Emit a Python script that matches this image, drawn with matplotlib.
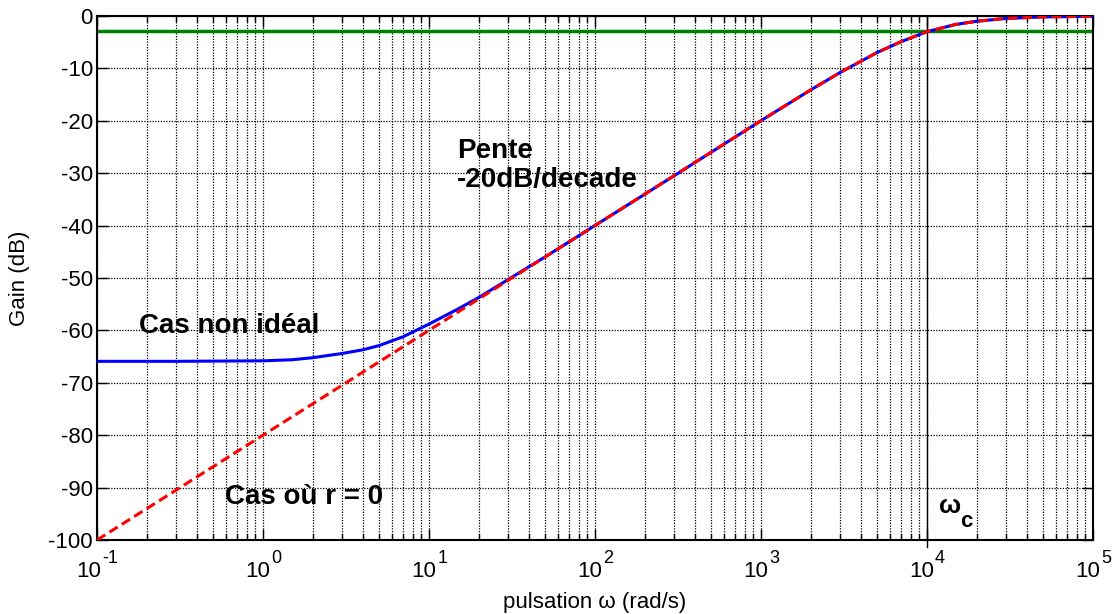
import matplotlib
matplotlib.use('Agg')
from matplotlib import pyplot as plt
from matplotlib.ticker import LogLocator, NullFormatter, FixedLocator
import numpy as np

plt.rcParams['font.family'] = ['Liberation Sans', 'DejaVu Sans']
plt.rcParams['axes.unicode_minus'] = False

# valeurs (pulsation en rad/s, gain en dB)
w_reel = [0.1, 0.3, 1, 1.5, 2, 3, 4, 5, 7, 10, 15, 20, 30, 50, 100, 300, 1000,
          2000, 3000, 5000, 7000, 10000, 15000, 20000, 30000, 50000, 100000]
gain_reel = [-65.9, -65.9, -65.8, -65.6, -65.2, -64.4, -63.7, -62.9, -61.2, -58.8,
             -55.9, -53.7, -50.3, -46.0, -40.0, -30.5, -20.0, -14.1, -10.8, -7.0,
             -4.9, -3.0, -1.6, -1.0, -0.46, -0.17, -0.04]

w_ideal = [0.1, 1, 10, 100, 1000, 2000, 3000, 5000, 7000, 10000, 15000, 20000,
           30000, 50000, 100000]
gain_ideal = [-100.0, -80.0, -60.0, -40.0, -20.0, -14.1, -10.8, -7.0, -4.9, -3.0,
              -1.6, -1.0, -0.46, -0.17, -0.04]

gain_coupure = -2.8
w_c = 1e4

y_ticks = [0, -10, -20, -30, -40, -50, -60, -70, -80, -90, -100]
x_ticks = [1e-1, 1e0, 1e1, 1e2, 1e3, 1e4, 1e5]
x_exposants = ['-1', '0', '1', '2', '3', '4', '5']

fig = plt.figure(figsize=(11.14, 6.14), dpi=100)
ax = fig.add_axes([0.0871, 0.1205, 0.8937, 0.8534])

ax.semilogx(w_reel, gain_reel, color='blue', lw=2.2, zorder=3)
ax.semilogx(w_ideal, gain_ideal, color='red', lw=2.2, ls=(0, (3.2, 1.6)), zorder=4)
ax.axhline(gain_coupure, color=(0, 0.5, 0), lw=2.5, zorder=2)
ax.plot([w_c, w_c], [-101.4, 0], color='black', lw=1, clip_on=False, zorder=2)

ax.set_xlim(0.1, 1e5)
ax.set_ylim(-100, 0)
ax.xaxis.set_major_locator(FixedLocator(x_ticks))
ax.xaxis.set_major_formatter(NullFormatter())
ax.xaxis.set_minor_locator(LogLocator(base=10, subs=np.arange(2, 10), numticks=20))
ax.xaxis.set_minor_formatter(NullFormatter())
ax.set_yticks(y_ticks)

# grille pointillée serrée comme matlab
ax.grid(True, which='major', color='black', ls=(0, (1, 1.2)), lw=0.9)
ax.grid(True, which='minor', axis='x', color='black', ls=(0, (1, 1.2)), lw=0.9)
ax.tick_params(which='both', direction='in', top=True, right=True)
ax.tick_params(axis='y', labelsize=16, pad=3)
ax.tick_params(which='major', length=8, width=1)
ax.tick_params(which='minor', length=4, width=1)
for s in ax.spines.values():
    s.set_linewidth(1.5)

# étiquettes 10^n façon matlab (exposant presque aussi grand que la base)
trans = ax.get_xaxis_transform()
w10 = 24.7
for xt, ex in zip(x_ticks, x_exposants):
    wex = 10.0 if len(ex) == 1 else 16.0
    dx = w10 - (w10 + wex) / 2
    ax.annotate('10', xy=(xt, 0), xycoords=trans, xytext=(dx, -37),
                textcoords='offset pixels', ha='right', va='baseline', fontsize=16)
    ax.annotate(ex, xy=(xt, 0), xycoords=trans, xytext=(dx + 1, -23),
                textcoords='offset pixels', ha='left', va='baseline', fontsize=13)

ax.set_xlabel('pulsation ω (rad/s)', fontsize=16, va='top')
ax.xaxis.set_label_coords(0.5, -0.099)
ax.set_ylabel('Gain (dB)', fontsize=16)
ax.yaxis.set_label_coords(-0.067, 0.5)

ax.text(14.8, -27.0, 'Pente', fontsize=20, fontweight='bold', va='baseline', ha='left')
ax.text(14.8, -32.6, '-20dB/decade', fontsize=20, fontweight='bold', va='baseline', ha='left')
ax.text(0.18, -60.5, 'Cas non idéal', fontsize=20, fontweight='bold', va='baseline')
ax.text(0.59, -93.1, 'Cas où r = 0', fontsize=20, fontweight='bold', va='baseline')
ax.text(11800, -94.8, 'ω', fontsize=19, fontweight='bold', va='baseline')
ax.text(15800, -97.5, 'c', fontsize=16, fontweight='bold', va='baseline')

fig.savefig('out.png', dpi=100)
plt.close()
